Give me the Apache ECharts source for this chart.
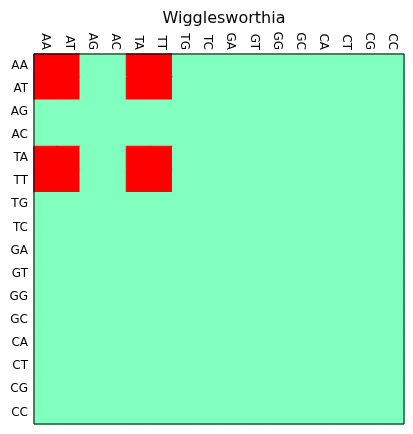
<!DOCTYPE html>
<html><head><meta charset="utf-8">
<script src="https://cdn.jsdelivr.net/npm/echarts@6/dist/echarts.min.js"></script>
<style>html,body{margin:0;padding:0;background:#fff}#c{width:413px;height:434px}</style>
</head><body><div id="c"></div>
<script>
const categories = ["AA","AT","AG","AC","TA","TT","TG","TC","GA","GT","GG","GC","CA","CT","CG","CC"];
const title = "Wigglesworthia";
// matrix rows (y) x columns (x): 1 = red, 0 = green
const matrix = [
  [1,1,0,0,1,1,0,0,0,0,0,0,0,0,0,0],
  [1,1,0,0,1,1,0,0,0,0,0,0,0,0,0,0],
  [0,0,0,0,0,0,0,0,0,0,0,0,0,0,0,0],
  [0,0,0,0,0,0,0,0,0,0,0,0,0,0,0,0],
  [1,1,0,0,1,1,0,0,0,0,0,0,0,0,0,0],
  [1,1,0,0,1,1,0,0,0,0,0,0,0,0,0,0],
  [0,0,0,0,0,0,0,0,0,0,0,0,0,0,0,0],
  [0,0,0,0,0,0,0,0,0,0,0,0,0,0,0,0],
  [0,0,0,0,0,0,0,0,0,0,0,0,0,0,0,0],
  [0,0,0,0,0,0,0,0,0,0,0,0,0,0,0,0],
  [0,0,0,0,0,0,0,0,0,0,0,0,0,0,0,0],
  [0,0,0,0,0,0,0,0,0,0,0,0,0,0,0,0],
  [0,0,0,0,0,0,0,0,0,0,0,0,0,0,0,0],
  [0,0,0,0,0,0,0,0,0,0,0,0,0,0,0,0],
  [0,0,0,0,0,0,0,0,0,0,0,0,0,0,0,0],
  [0,0,0,0,0,0,0,0,0,0,0,0,0,0,0,0]
];
const palette = ['#80ffbf', '#ff0000'];
const data = [];
matrix.forEach((row, r) => row.forEach((v, c) => data.push({
  value: [c, r, v],
  itemStyle: {color: palette[v], borderColor: palette[v], borderWidth: 1}
})));
const chart = echarts.init(document.getElementById('c'), null, {renderer: 'canvas'});
const font = 'DejaVu Sans';
chart.setOption({
  animation: false,
  backgroundColor: '#fff',
  title: {text: title, left: 219, top: 6, textAlign: 'center',
    textStyle: {fontFamily: font, fontSize: 16, fontWeight: 'normal', color: '#000'}},
  grid: {left: 34, top: 54, width: 370, height: 370},
  xAxis: {type: 'category', data: categories, position: 'top',
    axisLine: {show: true, lineStyle: {color: '#000', width: 1}},
    axisTick: {show: false}, splitLine: {show: false},
    axisLabel: {rotate: 90, interval: 0, margin: 4, fontFamily: font, fontSize: 12, color: '#000'}},
  yAxis: {type: 'category', data: categories, inverse: true,
    axisLine: {show: true, lineStyle: {color: '#000', width: 1}},
    axisTick: {show: false}, splitLine: {show: false},
    axisLabel: {interval: 0, margin: 6, fontFamily: font, fontSize: 12, color: '#000'}},
  series: [{type: 'heatmap', data: data}],
  graphic: [{type: 'rect', shape: {x: 34, y: 54, width: 370, height: 370},
    style: {fill: 'none', stroke: '#000', lineWidth: 1}, z: 100}]
});
</script></body></html>
